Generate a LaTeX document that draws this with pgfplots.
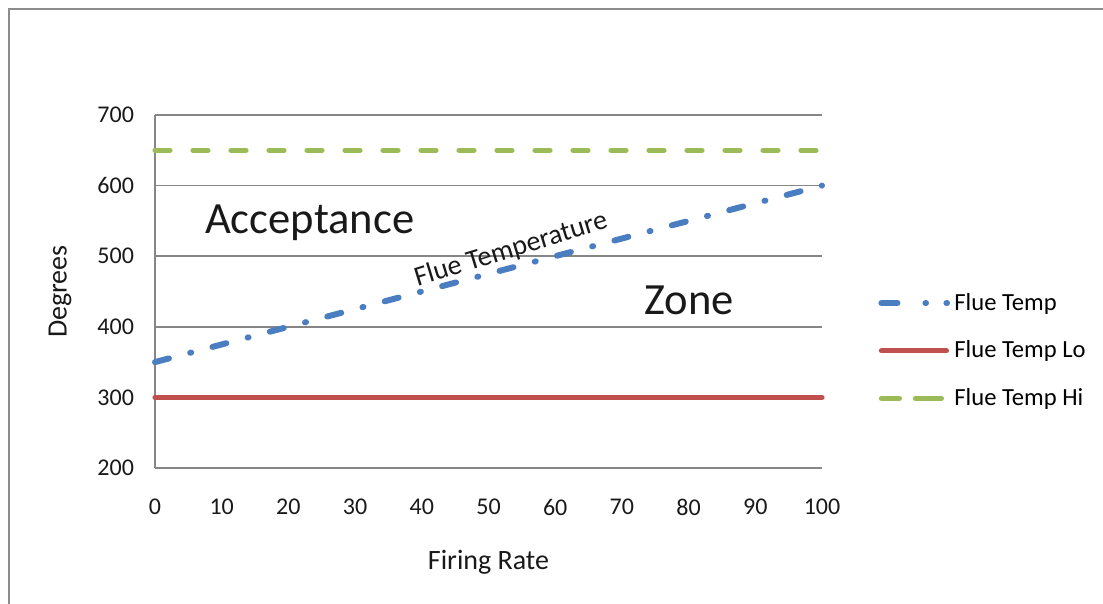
\documentclass[border=0pt]{standalone}
\usepackage{pgfplots}
\pgfplotsset{compat=1.18}
\usepackage{fontspec}
\setmainfont{Carlito}
\definecolor{fblue}{RGB}{74,126,193}
\definecolor{fred}{RGB}{192,80,77}
\definecolor{fgreen}{RGB}{155,187,89}
\definecolor{gridgray}{RGB}{134,134,134}
\definecolor{framegray}{RGB}{140,140,140}
\begin{document}
\begin{tikzpicture}
\useasboundingbox (0,0) rectangle (551.5pt,302pt);
\draw[framegray, line width=1.2pt] (4.5pt,-10pt) -- (4.5pt,297.5pt) -- (570pt,297.5pt);
\begin{axis}[
  at={(77.5pt,68pt)}, anchor=south west,
  width=333.5pt, height=176.5pt, scale only axis,
  xmin=0, xmax=100, ymin=200, ymax=700,
  xtick={0,10,...,100}, ytick={200,300,...,700},
  axis lines*=left,
  axis line style={gridgray, line width=0.8pt},
  ymajorgrids, grid style={gridgray, line width=0.8pt},
  major tick length=0pt,
  tick label style={font=\fontsize{12}{14}\selectfont, text=black!90},
  /pgf/number format/assume math mode=true,
  xticklabel style={yshift=-12pt},
  yticklabel style={xshift=-7pt},
  xlabel={Firing Rate}, ylabel={Degrees},
  label style={font=\fontsize{14}{16}\selectfont, text=black!90},
  xlabel style={at={(axis description cs:0.5,-0.266)}, anchor=center},
  ylabel style={at={(axis description cs:-0.1424,0.5)}, anchor=center},
  legend style={at={(axis description cs:1.084,0.332)}, anchor=west, draw=none, fill=none,
    font=\fontsize{12.3}{14}\selectfont, row sep=9.8pt, inner sep=0pt,
    /tikz/every even column/.append style={column sep=2pt}},
  legend cell align=left,
  legend image code/.code={\draw[#1] (1.5pt,0pt) -- (34pt,0pt);},
  clip=false,
]
\addplot[fblue, line width=3pt, line cap=round, dash pattern=on 7.2pt off 11pt on 0.5pt off 11pt,
  legend image code/.code={\draw[fblue, line width=3pt, line cap=round, dash pattern=on 8pt off 14pt on 0.3pt off 10.2pt on 0.3pt off 20pt] (1.5pt,0pt) -- (34.5pt,0pt);}]
  coordinates {(0,350) (100,600)};
\addlegendentry{Flue Temp}
\addplot[fred, line width=2.6pt, line cap=round] coordinates {(0,300) (100,300)};
\addlegendentry{Flue Temp Lo}
\addplot[fgreen, line width=2.6pt, line cap=round, dash pattern=on 7.5pt off 11.5pt,
  legend image code/.code={\draw[fgreen, line width=2.6pt, line cap=round, dash pattern=on 9pt off 8pt on 13pt off 20pt] (1.5pt,0pt) -- (34pt,0pt);}]
  coordinates {(0,650) (100,650)};
\addlegendentry{Flue Temp Hi}
\node[font=\fontsize{22.3}{26}\selectfont, text=black!90] at (axis cs:23.2,548) {Acceptance};
\node[font=\fontsize{22.3}{26}\selectfont, text=black!90] at (axis cs:80.1,438) {Zone};
\node[font=\fontsize{14}{16}\selectfont, text=black!90, rotate=17, inner sep=0pt] at (axis cs:53.4,509) {Flue Temperature};
\end{axis}
\end{tikzpicture}
\end{document}
